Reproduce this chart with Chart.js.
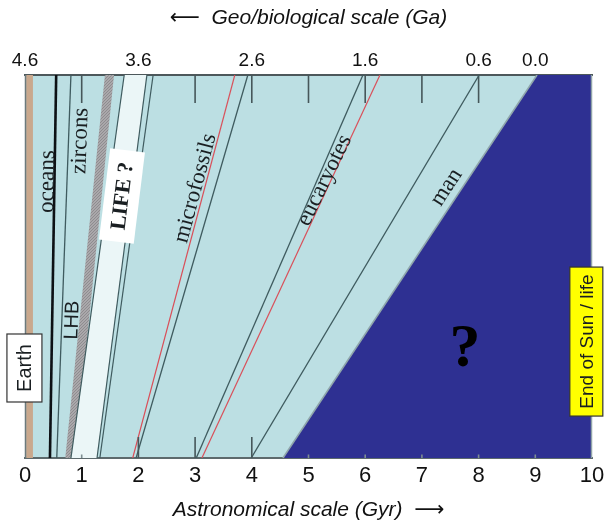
<!DOCTYPE html>
<html><head><meta charset="utf-8">
<script src="https://cdn.jsdelivr.net/npm/chart.js@4.4.0/dist/chart.umd.min.js"></script>
<style>html,body{margin:0;padding:0;background:#fff;}#wrap{width:604px;height:526px;}</style>
</head><body><div id="wrap"><canvas id="c" width="604" height="526"></canvas></div>
<script>
// ---- data ----
const astroTicks = [0,1,2,3,4,5,6,7,8,9,10];          // bottom axis (Gyr)
const geoTickPos = [0,2,4,6,8,9];                      // where geo labels sit on the astronomical scale
const geoTickLabels = ['4.6','3.6','2.6','1.6','0.6','0.0'];
const topTickMarks = [1,2,3,4,5,6,7,8];
const bottomLongTicks = [2,3,4];
const bottomShortTicks = [1,5,6,7,8,9];

// boundaries: [x at bottom edge, x at top edge] (astronomical Gyr)
const earthLeft = [0.02,0.02];
const earthRight = [0.14,0.14];
const oceansLine = [0.44,0.55];
const zirconsLine = [0.56,0.81];
const lhbLeft = [0.71,1.41];
const lhbRight = [0.88,1.57];
const lifeLeft = [0.81,1.75];
const lifeRight = [1.27,2.15];
const lifeOuter = [1.32,2.26];
const microfossilsRed = [1.90,3.70];
const microfossilsLine = [1.96,3.93];
const eucaryotesLine = [3.02,5.96];
const eucaryotesRed = [3.12,6.26];
const manLine = [3.99,8.01];
const futureEdge = [4.55,9.03];
const rightEdge = [10,10];

// ---- helpers ----
const SANS = "'Liberation Sans', Arial, sans-serif";
const SERIF = "'Liberation Serif', 'Times New Roman', serif";
function band(l, r){ return [{x:l[0],y:0},{x:l[1],y:1},{x:r[1],y:1},{x:r[0],y:0}]; }
function seg(l){ return [{x:l[0],y:0},{x:l[1],y:1}]; }
function ticks(xs, y0, y1){ const d=[]; xs.forEach(v=>{d.push({x:v,y:y0},{x:v,y:y1},{x:v,y:null});}); return d; }

function poly(data, color){ return {data, fill:'shape', backgroundColor:color, borderColor:'rgba(0,0,0,0)', borderWidth:0}; }
function line(data, color, w){ return {data, fill:false, borderColor:color, borderWidth:w}; }

// dotted grey texture for the LHB band
const pc = document.createElement('canvas'); pc.width = 3; pc.height = 3;
const pctx = pc.getContext('2d');
pctx.fillStyle = '#aaa8ab'; pctx.fillRect(0,0,3,3);
pctx.fillStyle = '#8e8c8f'; pctx.fillRect(0,0,1,1); pctx.fillRect(2,1,1,1); pctx.fillRect(1,2,1,1);
const lhbPattern = pctx.createPattern(pc, 'repeat');

const DARK = '#3f5b5f', RED = '#d9505a';
// bottom-to-top drawing order
const layers = [
  poly(band(earthLeft, earthRight), '#c9a88d'),
  line(ticks(topTickMarks, 1, 0.927), '#46575a', 1.6),
  line(seg(oceansLine), '#0d1115', 2.6),
  line(seg(zirconsLine), DARK, 1.3),
  poly(band(lhbLeft, lhbRight), lhbPattern),
  poly(band(lifeLeft, lifeRight), '#ebf6f7'),
  line(seg(lifeLeft), DARK, 1.2),
  line(seg(lifeRight), DARK, 1.2),
  line(seg(lifeOuter), DARK, 1.2),
  line(seg(microfossilsRed), RED, 1.2),
  line(seg(microfossilsLine), DARK, 1.3),
  line(seg(eucaryotesLine), DARK, 1.3),
  line(seg(eucaryotesRed), RED, 1.2),
  line(seg(manLine), DARK, 1.3),
  poly(band(futureEdge, rightEdge), '#2e3092'),
  line(seg(futureEdge), '#8fa6ab', 1.6),
  line(ticks(bottomLongTicks, 0, 0.055), '#46575a', 1.6),
  line(ticks(bottomShortTicks, 0, 0.009), '#7d8d91', 1.6),
];
const datasets = layers.map((d,i)=>Object.assign({pointRadius:0, tension:0, spanGaps:false, order: layers.length - i}, d));

// ---- text annotations ----
const annotations = [
  {text:'oceans', x:0.38, y:0.722, rot:-89, font:'23px '+SERIF},
  {text:'zircons', x:0.96, y:0.828, rot:-88, font:'23px '+SERIF},
  {text:'LHB', x:0.82, y:0.36, rot:-88, font:'20px '+SANS},
  {text:'LIFE ?', x:1.71, y:0.684, rot:-83, font:'bold 22px '+SERIF, box:'#ffffff', w:92, h:35},
  {text:'microfossils', x:2.99, y:0.705, rot:-75, font:'23px '+SERIF},
  {text:'eucaryotes', x:5.27, y:0.726, rot:-64, font:'23px '+SERIF},
  {text:'man', x:7.42, y:0.708, rot:-57, font:'23px '+SERIF},
  {text:'?', x:7.76, y:0.285, rot:0, font:'bold 62px '+SERIF, color:'#000'},
  {text:'Earth', x:-0.01, y:0.235, rot:-90, font:'20px '+SANS, box:'#ffffff', stroke:'#333', w:68, h:35},
  {text:'End of Sun / life', x:9.9, y:0.304, rot:-90, font:'19px '+SANS, box:'#ffff00', stroke:'#333', w:149, h:33},
];

const bgPlugin = {
  id:'bg',
  beforeDraw(chart){
    const {ctx, chartArea:a} = chart;
    ctx.save(); ctx.fillStyle = '#bcdfe3'; ctx.fillRect(a.left, a.top, a.right-a.left, a.bottom-a.top); ctx.restore();
  }
};
const labelPlugin = {
  id:'labels',
  afterDatasetsDraw(chart){
    const {ctx, chartArea:a, scales:{x, y}} = chart;
    ctx.save();
    ctx.lineWidth = 1.5;
    ctx.strokeStyle = '#6b7a7d';
    ctx.beginPath(); ctx.moveTo(a.left+0.5, a.top); ctx.lineTo(a.left+0.5, a.bottom); ctx.stroke();
    ctx.strokeStyle = '#8fa3a8';
    ctx.beginPath(); ctx.moveTo(a.right-0.5, a.top); ctx.lineTo(a.right-0.5, a.bottom); ctx.stroke();
    ctx.restore();
    for (const t of annotations){
      const px = x.getPixelForValue(t.x), py = y.getPixelForValue(t.y);
      ctx.save();
      ctx.translate(px, py);
      ctx.rotate(t.rot*Math.PI/180);
      if (t.box){
        ctx.fillStyle = t.box; ctx.fillRect(-t.w/2, -t.h/2, t.w, t.h);
        if (t.stroke){ ctx.strokeStyle = t.stroke; ctx.lineWidth = 1.2; ctx.strokeRect(-t.w/2, -t.h/2, t.w, t.h); }
      }
      ctx.font = t.font; ctx.fillStyle = t.color || '#1a1f22';
      ctx.textAlign = 'center'; ctx.textBaseline = 'middle';
      ctx.fillText(t.text, 0, 1);
      ctx.restore();
    }
  }
};

const TITLE_FONT = "'Liberation Sans', 'DejaVu Sans', sans-serif";
new Chart(document.getElementById('c'), {
  type:'line',
  data:{datasets},
  options:{
    responsive:false, animation:false, devicePixelRatio:1,
    layout:{padding:{left:25, right:12, top:0, bottom:0}},
    plugins:{legend:{display:false}, tooltip:{enabled:false}},
    scales:{
      x:{type:'linear', position:'bottom', min:0, max:10,
        afterBuildTicks:s=>{ s.ticks = astroTicks.map(v=>({value:v})); },
        ticks:{autoSkip:false, maxRotation:0, padding:5, color:'#111', font:{family:SANS, size:22}},
        grid:{display:false, drawTicks:false},
        border:{display:true, color:'#5d6a6d', width:2},
        title:{display:true, text:'Astronomical scale (Gyr)  \u27F6', color:'#111', font:{family:TITLE_FONT, size:21, style:'italic'}, padding:{top:0, bottom:3}},
        afterFit:s=>{ s.height = 68; s.paddingLeft = 0; s.paddingRight = 0; }
      },
      xTop:{type:'linear', position:'top', min:0, max:10,
        afterBuildTicks:s=>{ s.ticks = geoTickPos.map(v=>({value:v})); },
        ticks:{autoSkip:false, maxRotation:0, padding:3, color:'#111', font:{family:SANS, size:19},
          callback:(v,i)=>geoTickLabels[i]},
        grid:{display:false, drawTicks:false},
        border:{display:true, color:'#4d585b', width:2},
        title:{display:true, text:'\u27F5  Geo/biological scale (Ga)', color:'#111', font:{family:TITLE_FONT, size:21, style:'italic'}, padding:{top:6, bottom:0}},
        afterFit:s=>{ s.height = 75; s.paddingLeft = 0; s.paddingRight = 0; }
      },
      y:{type:'linear', min:0, max:1, display:false}
    }
  },
  plugins:[bgPlugin, labelPlugin]
});
</script></body></html>
